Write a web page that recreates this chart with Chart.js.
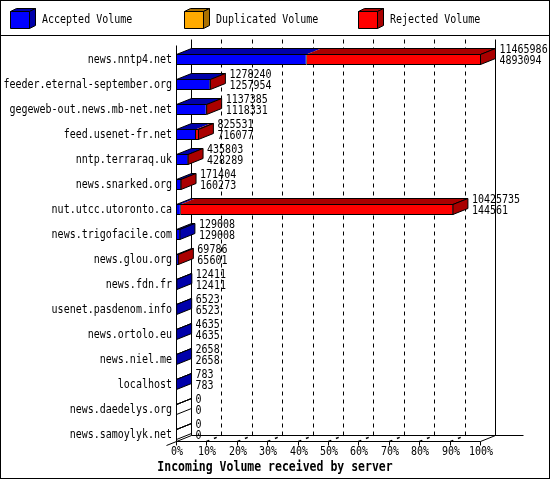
<!DOCTYPE html>
<html>
<head>
<meta charset="utf-8">
<title>Incoming Volume received by server</title>
<script src="https://cdn.jsdelivr.net/npm/chart.js@4.4.1/dist/chart.umd.min.js"></script>
<style>
  html, body { margin: 0; padding: 0; background: #fff; }
  #wrap { width: 550px; height: 480px; }
</style>
</head>
<body>
<div id="wrap"><canvas id="volume" width="550" height="480"></canvas></div>
<script>
// Données
const hosts = [
  'news.nntp4.net',
  'feeder.eternal-september.org',
  'gegeweb-out.news.mb-net.net',
  'feed.usenet-fr.net',
  'nntp.terraraq.uk',
  'news.snarked.org',
  'nut.utcc.utoronto.ca',
  'news.trigofacile.com',
  'news.glou.org',
  'news.fdn.fr',
  'usenet.pasdenom.info',
  'news.ortolo.eu',
  'news.niel.me',
  'localhost',
  'news.daedelys.org',
  'news.samoylyk.net',
];
const totalVolume = [11465986, 1278240, 1137385, 825531, 435803, 171404, 10425735, 129008, 69786, 12411, 6523, 4635, 2658, 783, 0, 0];
const acceptedVolume = [4893094, 1257954, 1118331, 716077, 428289, 160273, 144561, 129008, 65601, 12411, 6523, 4635, 2658, 783, 0, 0];
const duplicatedVolume = [0, 0, 0, 0, 0, 0, 0, 0, 0, 0, 0, 0, 0, 0, 0, 0];
const rejectedVolume = [6572892, 20286, 19054, 109454, 7514, 11131, 10281174, 0, 4185, 0, 0, 0, 0, 0, 0, 0];
const seriesLabels = ['Accepted Volume', 'Duplicated Volume', 'Rejected Volume'];
const percentTicks = ['0%', '10%', '20%', '30%', '40%', '50%', '60%', '70%', '80%', '90%', '100%'];
const axisTitle = 'Incoming Volume received by server';

const COLORS = {
  front: ['#0000ff', '#ffaa00', '#ff0000'],
  dark: ['#0000aa', '#aa7000', '#aa0000'],
  ink: '#000000',
};
const FONT = '10px "DejaVu Sans Mono", monospace';
const FONT_BOLD = 'bold 11.5px "DejaVu Sans Mono", monospace';
const TEXT_STRETCH = 1.2; // police GD plus haute que large
const DX = 15; // profondeur 3D
const DY = 6;

const maxTotal = Math.max(...totalVolume);

function poly(ctx, pts, fill) {
  ctx.beginPath();
  ctx.moveTo(pts[0][0], pts[0][1]);
  for (let k = 1; k < pts.length; k++) ctx.lineTo(pts[k][0], pts[k][1]);
  ctx.closePath();
  if (fill) {
    ctx.fillStyle = fill;
    ctx.fill();
  }
  ctx.stroke();
}

function line(ctx, x1, y1, x2, y2) {
  ctx.beginPath();
  ctx.moveTo(x1, y1);
  ctx.lineTo(x2, y2);
  ctx.stroke();
}

function text(ctx, s, x, y) {
  ctx.save();
  ctx.translate(x, y);
  ctx.scale(1, TEXT_STRETCH);
  ctx.fillText(s, 0, 0);
  ctx.restore();
}

const frame3d = {
  id: 'frame3d',
  beforeDraw(chart) {
    const { ctx } = chart;
    ctx.save();
    ctx.fillStyle = '#fff';
    ctx.fillRect(0, 0, chart.width, chart.height);
    ctx.restore();
  },
  beforeDatasetsDraw(chart) {
    const { ctx, chartArea: a, scales: { x, y } } = chart;
    ctx.save();
    ctx.strokeStyle = COLORS.ink;
    ctx.fillStyle = COLORS.ink;
    ctx.lineWidth = 1;

    // cadre + séparation de la légende
    ctx.strokeRect(0.5, 0.5, chart.width - 1, chart.height - 2);
    line(ctx, 0, 35.5, chart.width, 35.5);

    // légende (cubes)
    chart.data.datasets.forEach((ds, d) => {
      const bx = 10.5 + d * 174;
      const by = 11.5;
      poly(ctx, [[bx, by], [bx + 19, by], [bx + 19, by + 17], [bx, by + 17]], COLORS.front[d]);
      poly(ctx, [[bx, by], [bx + 6, by - 3], [bx + 25, by - 3], [bx + 19, by]], COLORS.dark[d]);
      poly(ctx, [[bx + 19, by], [bx + 25, by - 3], [bx + 25, by + 14], [bx + 19, by + 17]], COLORS.dark[d]);
      ctx.fillStyle = COLORS.ink;
      ctx.font = FONT;
      ctx.textAlign = 'left';
      ctx.textBaseline = 'middle';
      text(ctx, ds.label, 42 + d * 174, 20);
    });

    const x0 = Math.round(x.getPixelForValue(0)) - 0.5;
    const x100 = Math.round(x.getPixelForValue(maxTotal)) - 0.5;
    const floorY = a.bottom - 5.5;
    const backFloor = floorY - DY;
    const backTop = a.top - 7.5;

    // grille pointillée au fond
    ctx.setLineDash([4, 4]);
    for (let i = 1; i < percentTicks.length - 1; i++) {
      const xf = Math.round(x.getPixelForValue(maxTotal * i / 10)) - 0.5;
      line(ctx, xf + DX, backTop, xf + DX, backFloor);
    }
    ctx.setLineDash([3, 5]);
    ctx.lineWidth = 1.5;
    for (let i = 1; i < percentTicks.length - 1; i++) {
      const xf = Math.round(x.getPixelForValue(maxTotal * i / 10)) - 0.5;
      line(ctx, xf, floorY, xf + DX, backFloor);
    }
    ctx.setLineDash([]);
    ctx.lineWidth = 1;

    // murs et sol
    line(ctx, x0 + DX, backTop, x0 + DX, backFloor);
    line(ctx, x100 + DX, backTop, x100 + DX, backFloor);
    line(ctx, x0 + DX, backFloor, x100 + DX + 28, backFloor);
    line(ctx, x0, backTop + DY, x0, floorY);
    line(ctx, x0, floorY, x100, floorY);
    line(ctx, x100, floorY, x100 + DX, backFloor);
    line(ctx, x0 + DX, backFloor, x0 - 10, floorY + 4);

    // graduations en %
    ctx.font = FONT;
    ctx.textAlign = 'center';
    ctx.textBaseline = 'middle';
    percentTicks.forEach((lab, i) => {
      const xf = Math.round(x.getPixelForValue(maxTotal * i / 10)) - 0.5;
      line(ctx, xf, floorY, xf, floorY + 4);
      text(ctx, lab, xf + 0.5, a.bottom + 5);
    });

    // noms des serveurs
    ctx.textAlign = 'right';
    chart.data.labels.forEach((lab, i) => {
      text(ctx, lab, a.left - 5, y.getPixelForValue(i));
    });

    // titre de l'axe
    ctx.font = FONT_BOLD;
    ctx.textAlign = 'center';
    text(ctx, axisTitle, chart.width / 2, a.bottom + 20);
    ctx.restore();
  },
  afterDatasetsDraw(chart) {
    const { ctx, scales: { x } } = chart;
    const metas = chart.data.datasets.map((ds, d) => chart.getDatasetMeta(d));
    const x0 = x.getPixelForValue(0);
    ctx.save();
    ctx.strokeStyle = COLORS.ink;
    ctx.lineWidth = 1;

    chart.data.labels.forEach((lab, i) => {
      let xe = x0;
      let side = null;
      let top = 0, bottom = 0;
      const segs = [];
      metas.forEach((meta, d) => {
        const el = meta.data[i];
        const p = el.getProps(['x', 'base', 'y', 'height'], true);
        top = Math.round(p.y - p.height / 2) + 0.5;
        bottom = Math.round(p.y + p.height / 2) - 0.5;
        const v = chart.data.datasets[d].data[i];
        if (v > 0) {
          segs.push({ b: p.base - 0.5, e: p.x - 0.5, d });
          xe = Math.max(xe, p.x);
          side = COLORS.dark[d];
        }
      });
      const xs = x0 - 0.5;
      const xr = xe - 0.5;

      // face du dessus
      segs.forEach(s => {
        ctx.beginPath();
        ctx.moveTo(s.b, top);
        ctx.lineTo(s.e, top);
        ctx.lineTo(s.e + DX, top - DY);
        ctx.lineTo(s.b + DX, top - DY);
        ctx.closePath();
        ctx.fillStyle = COLORS.dark[s.d];
        ctx.fill();
      });
      poly(ctx, [[xs, top], [xr, top], [xr + DX, top - DY], [xs + DX, top - DY]], null);

      // face de côté
      poly(ctx, [[xr, top], [xr + DX, top - DY], [xr + DX, bottom - DY], [xr, bottom]], side);

      // valeurs
      const cy = (top + bottom) / 2;
      ctx.fillStyle = COLORS.ink;
      ctx.font = FONT;
      ctx.textAlign = 'left';
      ctx.textBaseline = 'middle';
      text(ctx, String(totalVolume[i]), xr + DX + 4, cy - 9.5);
      text(ctx, String(acceptedVolume[i]), xr + DX + 4, cy + 1.5);
    });
    ctx.restore();
  },
};

const barStyle = {
  barThickness: 11,
  borderColor: COLORS.ink,
  borderWidth: { top: 1, right: 1, bottom: 1, left: 0 },
  borderSkipped: false,
  inflateAmount: 0,
};

new Chart(document.getElementById('volume'), {
  type: 'bar',
  data: {
    labels: hosts,
    datasets: [
      { label: seriesLabels[0], data: acceptedVolume, backgroundColor: COLORS.front[0], ...barStyle },
      { label: seriesLabels[1], data: duplicatedVolume, backgroundColor: COLORS.front[1], ...barStyle },
      { label: seriesLabels[2], data: rejectedVolume, backgroundColor: COLORS.front[2], ...barStyle },
    ],
  },
  options: {
    indexAxis: 'y',
    responsive: false,
    animation: false,
    devicePixelRatio: 1,
    layout: { padding: { left: 177, right: 69, top: 47, bottom: 33 } },
    plugins: {
      legend: { display: false },
      tooltip: { enabled: false },
    },
    scales: {
      x: { stacked: true, display: false, min: 0, max: maxTotal },
      y: { stacked: true, display: false },
    },
  },
  plugins: [frame3d],
});
</script>
</body>
</html>
